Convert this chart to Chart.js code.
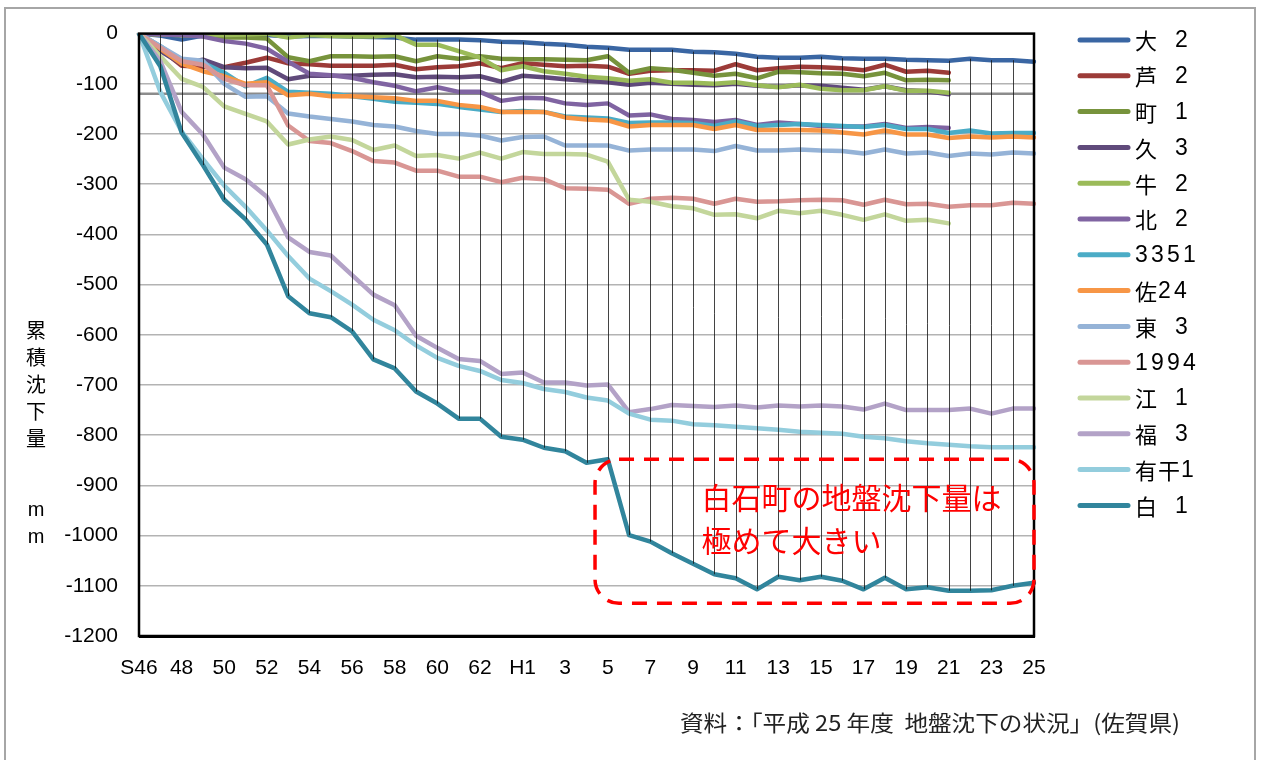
<!DOCTYPE html>
<html lang="ja">
<head>
<meta charset="utf-8">
<title>累積沈下量の推移</title>
<script src="https://cdn.jsdelivr.net/npm/chart.js@4.4.1/dist/chart.umd.min.js"></script>
<style>
  html, body { margin: 0; padding: 0; background: #ffffff; }
  #wrap { position: relative; width: 1264px; height: 760px; }
</style>
</head>
<body>
<div id="wrap"><canvas id="c" width="1264" height="760"></canvas></div>
<script>
// Survey years (Showa 46 - Heisei 25)
const years = ['S46','47','48','49','50','51','52','53','54','55','56','57','58','59','60','61','62','63',
               'H1','2','3','4','5','6','7','8','9','10','11','12','13','14','15','16','17','18','19','20','21','22','23','24','25'];

// Benchmark names and line colours
const seriesNames = ['大　2','芦　2','町　1','久　3','牛　2','北　2','3351','佐24','東　3','1994','江　1','福　3','有干1','白　1'];
const seriesColors = ['#3a66a3','#9c3b38','#77933c','#604a7b','#9bbb59','#8064a2','#4bacc6','#f79646',
                      '#95b3d7','#d99694','#c3d69b','#b3a2c7','#93cddd','#31859c'];

// Cumulative subsidence (mm)
const sDai2 = [0,-4,-12,-4,-4,-3,-3,-6,-5,-5, -6,-7,-8,-12,-12,-12,-13,-16,-17,-20, -22,-26,-28,-32,-32,-32,-36,-37,-40,-46, -48,-48,-46,-49,-50,-50,-52,-53,-54,-50, -53,-53,-56];
const sAshi2 = [0,-30,-64,-66,-67,-58,-48,-59,-61,-64, -64,-64,-62,-71,-67,-65,-59,-69,-59,-62, -65,-64,-66,-80,-74,-73,-73,-74,-61,-73, -69,-66,-67,-69,-73,-62,-76,-74,-78,null, null,null,null];
const sMachi1 = [0,-2,-3,-5,-8,-8,-10,-47,-55,-45, -45,-46,-45,-55,-45,-50,-45,-50,-51,-51, -52,-53,-45,-78,-69,-72,-78,-84,-80,-89, -76,-77,-79,-80,-85,-78,-93,-92,-93,null, null,null,null];
const sKu3 = [0,-35,-60,-52,-67,-69,-68,-91,-84,-84, -84,-82,-81,-87,-86,-87,-85,-96,-84,-87, -91,-94,-97,-102,-98,-100,-102,-103,-100,-104, -106,-103,-104,-108,-112,-105,-113,-115,-121,null, null,null,null];
const sUshi2 = [0,-2,-3,-2,-3,-2,0,-8,-3,-5, -6,-6,-3,-22,-22,-35,-48,-73,-65,-75, -80,-86,-89,-94,-91,-98,-98,-100,-97,-103, -107,-102,-110,-113,-113,-105,-114,-114,-118,null, null,null,null];
const sKita2 = [0,-2,-3,-6,-15,-20,-30,-56,-80,-83, -88,-97,-104,-115,-107,-116,-116,-134,-128,-129, -139,-142,-139,-163,-161,-170,-172,-176,-172,-182, -177,-180,-184,-185,-185,-180,-188,-186,-188,null, null,null,null];
const s3351 = [0,-25,-55,-58,-78,-105,-88,-116,-118,-120, -125,-130,-136,-138,-140,-146,-151,-156,-154,-156, -165,-167,-169,-178,-177,-177,-178,-184,-175,-184, -182,-180,-182,-184,-186,-182,-190,-190,-198,-193, -199,-198,-198];
const sSa24 = [0,-30,-60,-75,-85,-100,-97,-123,-120,-125, -125,-127,-129,-134,-134,-142,-146,-156,-156,-156, -167,-171,-173,-185,-182,-182,-182,-190,-182,-192, -192,-192,-193,-197,-201,-193,-201,-201,-208,-205, -207,-205,-207];
const sHigashi3 = [0,-25,-50,-54,-100,-126,-125,-159,-165,-170, -175,-182,-185,-194,-200,-200,-203,-213,-206,-205, -223,-223,-223,-233,-231,-231,-231,-234,-224,-233, -233,-231,-233,-234,-239,-231,-239,-237,-244,-239, -241,-237,-239];
const s1994 = [0,-28,-55,-62,-90,-103,-103,-183,-214,-218, -234,-254,-257,-273,-273,-285,-285,-296,-287,-290, -308,-309,-311,-339,-329,-327,-329,-339,-329,-335, -334,-332,-331,-332,-341,-331,-340,-339,-345,-342, -342,-337,-339];
const sE1 = [0,-45,-90,-106,-145,-160,-175,-221,-211,-205, -212,-232,-223,-244,-242,-249,-237,-249,-236,-240, -240,-241,-255,-331,-335,-344,-348,-361,-360,-368, -353,-358,-353,-361,-371,-360,-373,-371,-378,null, null,null,null];
const sFuku3 = [0,-55,-156,-201,-267,-290,-325,-406,-435,-442, -481,-520,-541,-602,-626,-648,-652,-678,-675,-695, -695,-701,-699,-754,-748,-740,-742,-744,-741,-745, -741,-743,-741,-743,-749,-737,-750,-750,-750,-747, -757,-747,-747];
const sArikan1 = [0,-116,-195,-250,-303,-345,-392,-443,-488,-513, -540,-570,-591,-621,-646,-662,-672,-690,-696,-708, -714,-725,-731,-757,-769,-771,-778,-780,-783,-786, -789,-793,-795,-797,-803,-806,-812,-816,-819,-822, -824,-824,-824];
const sShiro1 = [0,-65,-197,-262,-331,-370,-420,-523,-557,-565, -593,-649,-667,-713,-737,-767,-767,-803,-809,-825, -832,-855,-848,-999,-1012,-1035,-1056,-1077,-1085,-1107, -1082,-1089,-1082,-1090,-1107,-1084,-1107,-1103,-1110,-1110, -1109,-1100,-1094];

const seriesValues = [sDai2, sAshi2, sMachi1, sKu3, sUshi2, sKita2, s3351, sSa24, sHigashi3, s1994, sE1, sFuku3, sArikan1, sShiro1];

// Y axis range and the grey reference level
const yMin = -1200, yMax = 0, yStep = 100;
const referenceLevel = -120;

// Texts
const yTitle = '累積沈下量';
const yUnit = 'mm';
const calloutLines = ['白石町の地盤沈下量は', '極めて大きい'];
const sourceNote = '資料：「平成 25 年度  地盤沈下の状況」(佐賀県)';

// Callout box in axis units (category index / mm)
const calloutBox = { fromIndex: 21.4, toIndex: 42, top: -848, bottom: -1135 };
const calloutText = { index: 26.4, line1: -925, line2: -1010 };

const NUM_FONT = '"Liberation Sans", Arial, sans-serif';
const JP_FONT = '"Noto Sans CJK JP", "Noto Sans", sans-serif';

const datasets = seriesValues.map((vals, k) => ({
  label: seriesNames[k],
  data: vals,
  borderColor: seriesColors[k],
  backgroundColor: seriesColors[k],
  order: seriesValues.length - k,   // later series are painted on top
  spanGaps: false
}));

const decorations = {
  id: 'decorations',
  beforeDatasetsDraw(chart) {
    const { ctx, chartArea: a, scales: { y } } = chart;
    const py = y.getPixelForValue(referenceLevel);
    ctx.save();
    ctx.strokeStyle = '#8c8c8c';
    ctx.lineWidth = 2.5;
    ctx.beginPath();
    ctx.moveTo(a.left, py);
    ctx.lineTo(a.right, py);
    ctx.stroke();
    ctx.restore();
  },
  afterDatasetsDraw(chart) {
    const { ctx, chartArea: a, scales: { x, y } } = chart;
    ctx.save();
    // high-low lines for each year
    ctx.strokeStyle = 'rgba(20,20,20,0.8)';
    ctx.lineWidth = 1;
    for (let i = 0; i < years.length; i++) {
      const vals = chart.data.datasets.map(d => d.data[i]).filter(v => v !== null && v !== undefined);
      const hi = Math.max(...vals), lo = Math.min(...vals);
      if (hi === lo) continue;
      const px = Math.round(x.getPixelForValue(i)) + 0.5;
      ctx.beginPath();
      ctx.moveTo(px, y.getPixelForValue(hi));
      ctx.lineTo(px, y.getPixelForValue(lo));
      ctx.stroke();
    }
    // plot area frame
    ctx.strokeStyle = '#000';
    ctx.lineWidth = 2.5;
    ctx.strokeRect(a.left, a.top, a.right - a.left, a.bottom - a.top);
    ctx.lineWidth = 3;
    ctx.beginPath();
    ctx.moveTo(a.left, a.bottom + 0.5);
    ctx.lineTo(a.right + 1, a.bottom + 0.5);
    ctx.stroke();

    // callout
    const bx0 = x.getPixelForValue(calloutBox.fromIndex);
    const bx1 = x.getPixelForValue(calloutBox.toIndex);
    const by0 = y.getPixelForValue(calloutBox.top);
    const by1 = y.getPixelForValue(calloutBox.bottom);
    ctx.strokeStyle = '#ff0000';
    ctx.lineWidth = 3.5;
    ctx.setLineDash([15, 10]);
    ctx.beginPath();
    ctx.roundRect(bx0, by0, bx1 - bx0, by1 - by0, 24);
    ctx.stroke();
    ctx.setLineDash([]);
    ctx.fillStyle = '#ff0000';
    ctx.font = '30px ' + JP_FONT;
    ctx.textAlign = 'left';
    ctx.textBaseline = 'middle';
    const tx = x.getPixelForValue(calloutText.index);
    ctx.fillText(calloutLines[0], tx, y.getPixelForValue(calloutText.line1));
    ctx.fillText(calloutLines[1], tx, y.getPixelForValue(calloutText.line2));
    ctx.restore();
  },
  afterDraw(chart) {
    const { ctx } = chart;
    ctx.save();
    // outer frame
    ctx.strokeStyle = '#a6a6a6';
    ctx.lineWidth = 2;
    ctx.strokeRect(5, 8, 1250, 760);

    // vertical axis title
    ctx.fillStyle = '#000';
    ctx.textAlign = 'center';
    ctx.textBaseline = 'middle';
    ctx.font = '20px ' + JP_FONT;
    [...yTitle].forEach((ch, k) => ctx.fillText(ch, 36, 330 + k * 27));
    ctx.font = '20px ' + NUM_FONT;
    [...yUnit].forEach((ch, k) => ctx.fillText(ch, 36, 510 + k * 27));

    // legend
    const lx0 = 1080, lx1 = 1128, ly0 = 40, lstep = 35.8;
    chart.data.datasets.forEach((d, k) => {
      const ly = ly0 + k * lstep;
      ctx.strokeStyle = d.borderColor;
      ctx.lineWidth = 5;
      ctx.lineCap = 'round';
      ctx.beginPath();
      ctx.moveTo(lx0, ly);
      ctx.lineTo(lx1, ly);
      ctx.stroke();
      let cx = 1135;
      ctx.textAlign = 'left';
      ctx.fillStyle = '#000';
      for (const ch of d.label) {
        const wide = ch.charCodeAt(0) > 0x2000;
        if (ch === '　') { cx += 17; continue; }
        ctx.font = wide ? ('22px ' + JP_FONT) : ('23px ' + NUM_FONT);
        ctx.fillText(ch, cx, ly + 1);
        cx += wide ? 23 : 16;
      }
    });

    // source note, fitted to its column width
    ctx.font = '22px ' + JP_FONT;
    ctx.textAlign = 'left';
    const w = ctx.measureText(sourceNote).width;
    const sx = 500 / w;
    ctx.translate(680, 723);
    ctx.scale(sx, 1);
    ctx.fillStyle = '#222';
    ctx.fillText(sourceNote, 0, 0);
    ctx.restore();
  }
};

new Chart(document.getElementById('c'), {
  type: 'line',
  data: { labels: years, datasets },
  options: {
    responsive: false,
    animation: false,
    devicePixelRatio: 1,
    layout: { padding: { top: 24, right: 230, bottom: 0, left: 0 } },
    elements: {
      line: { borderWidth: 4.5, tension: 0, borderCapStyle: 'round', borderJoinStyle: 'round' },
      point: { radius: 0, hoverRadius: 0 }
    },
    plugins: { legend: { display: false }, tooltip: { enabled: false } },
    scales: {
      x: {
        type: 'category',
        offset: false,
        grid: { display: false, drawTicks: false },
        border: { display: false },
        ticks: {
          autoSkip: false, maxRotation: 0, minRotation: 0, padding: 20,
          color: '#000', font: { family: NUM_FONT, size: 21 },
          callback: (v, i) => (i % 2 === 0 ? years[i] : '')
        },
        afterFit: s => { s.height = 124; }
      },
      y: {
        min: yMin, max: yMax,
        grid: { color: '#b3b3b3', lineWidth: 1.5, drawTicks: false },
        border: { display: false },
        ticks: {
          stepSize: yStep, padding: 21, color: '#000',
          font: { family: NUM_FONT, size: 21 },
          callback: v => String(v)
        },
        afterFit: s => { s.width = 139; }
      }
    }
  },
  plugins: [decorations]
});
</script>
</body>
</html>
